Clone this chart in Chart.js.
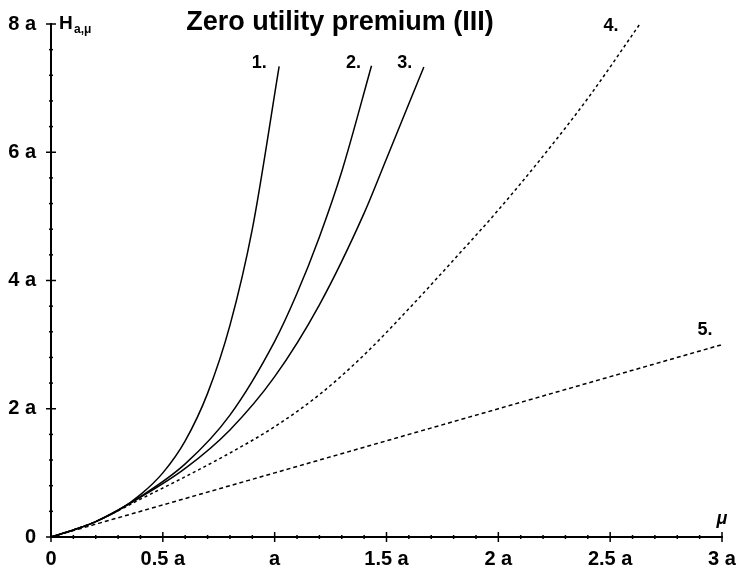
<!DOCTYPE html>
<html>
<head>
<meta charset="utf-8">
<script src="https://cdn.jsdelivr.net/npm/chart.js@4"></script>
<style>
  html, body { margin: 0; padding: 0; background: #fff; }
  #wrap { width: 740px; height: 568px; }
</style>
</head>
<body>
<div id="wrap"><canvas id="rel"></canvas></div>
<script>
// values in units of a
var xTicks = [0, 0.5, 1, 1.5, 2, 2.5, 3];
var xLabels = ['0', '0.5 a', 'a', '1.5 a', '2 a', '2.5 a', '3 a'];
var yTicks = [0, 2, 4, 6, 8];
var yLabels = ['0', '2 a', '4 a', '6 a', '8 a'];
var curveNames = ['1.', '2.', '3.', '4.', '5.'];

var mu1 = [0, 0.1, 0.2, 0.3, 0.4, 0.5, 0.6, 0.7, 0.8, 0.9, 1.02];
var h1  = [0, 0.11, 0.24, 0.41, 0.66, 1.00, 1.50, 2.24, 3.30, 4.80, 7.34];

var mu2 = [0, 0.1, 0.2, 0.4, 0.6, 0.8, 1.0, 1.1, 1.2, 1.3, 1.433];
var h2  = [0, 0.11, 0.24, 0.63, 1.14, 1.90, 3.05, 3.80, 4.68, 5.70, 7.35];

var mu3 = [0, 0.1, 0.2, 0.4, 0.6, 0.8, 1.0, 1.2, 1.4, 1.5, 1.667];
var h3  = [0, 0.11, 0.24, 0.62, 1.07, 1.67, 2.50, 3.62, 5.05, 5.90, 7.33];

var mu4 = [0, 0.1, 0.2, 0.3, 0.4, 0.6, 0.8, 1.0, 1.2, 1.4, 1.6, 1.8, 2.0, 2.2, 2.4, 2.633];
var h4  = [0, 0.11, 0.24, 0.41, 0.59, 0.94, 1.31, 1.72, 2.22, 2.84, 3.56, 4.32, 5.10, 5.94, 6.84, 8.0];

var mu5 = [0, 1, 2, 3];
var h5  = [0, 1, 2, 3];

function pts(xs, ys) {
    return xs.map(function(x, i){ return {x: x, y: ys[i]}; });
}

var font = '"Liberation Sans", Arial, sans-serif';
var labelShift = [[-20, -4], [-18, -4], [-19, -5], [-29, 1], [-17, -16]];

var decor = {
    id: 'decor',
    afterDraw: function(chart){
        var c = chart.ctx, sx = chart.scales.x, sy = chart.scales.y;
        var x0 = sx.getPixelForValue(0), y0 = sy.getPixelForValue(0);
        c.save();
        c.strokeStyle = '#000';
        c.lineWidth = 1.5;
        // ticks crossing the axes
        for (var i = 0; i <= 30; i++) {
            var px = sx.getPixelForValue(i / 10), l = (i % 5 == 0) ? 5 : 2;
            c.beginPath(); c.moveTo(px, y0 - l); c.lineTo(px, y0 + l); c.stroke();
        }
        for (var j = 0; j <= 20; j++) {
            var py = sy.getPixelForValue(j * 0.4), m = (j % 5 == 0) ? 5 : 2;
            c.beginPath(); c.moveTo(x0 - m, py); c.lineTo(x0 + m, py); c.stroke();
        }
        c.fillStyle = '#000';
        c.textBaseline = 'alphabetic';
        c.textAlign = 'center';
        c.font = 'bold 27px ' + font;
        c.fillText('Zero utility premium (III)', 340, 30);
        c.textAlign = 'left';
        c.font = 'bold 19px ' + font;
        c.fillText('H', 59, 29);
        c.font = 'bold 12px ' + font;
        c.fillText('a,\u03bc', 74, 33);
        c.font = 'italic bold 18px ' + font;
        c.textAlign = 'center';
        c.fillText('\u03bc', 722, 524);
        c.font = 'bold 18px ' + font;
        chart.data.datasets.forEach(function(ds, k){
            var last = ds.data[ds.data.length - 1];
            var ex = sx.getPixelForValue(last.x), ey = sy.getPixelForValue(last.y);
            c.fillText(curveNames[k], ex + labelShift[k][0], ey + labelShift[k][1] + 6);
        });
        c.restore();
    }
};

function line(data, dash) {
    return {
        data: data,
        borderColor: '#000',
        borderWidth: 1.5,
        borderDash: dash,
        pointRadius: 0,
        fill: false,
        cubicInterpolationMode: 'monotone'
    };
}

var rel = new Chart(document.getElementById('rel'), {
    type: 'line',
    data: {
        datasets: [
            line(pts(mu1, h1), []),
            line(pts(mu2, h2), []),
            line(pts(mu3, h3), []),
            line(pts(mu4, h4), [3, 3]),
            line(pts(mu5, h5), [4, 3])
        ]
    },
    options: {
        responsive: true,
        maintainAspectRatio: false,
        animation: false,
        layout: { padding: { top: 24, right: 18, left: 0, bottom: 0 } },
        plugins: { legend: { display: false }, tooltip: { enabled: false } },
        scales: {
            x: {
                type: 'linear', min: 0, max: 3,
                afterBuildTicks: function(s){ s.ticks = xTicks.map(function(v){ return {value: v}; }); },
                afterFit: function(s){ s.height = 31; s.paddingLeft = 0; s.paddingRight = 0; },
                grid: { display: false, drawTicks: false },
                border: { display: true, color: '#000', width: 2 },
                ticks: {
                    padding: 10, color: '#000', maxRotation: 0, autoSkip: false,
                    font: { family: font, size: 20, weight: 'bold' },
                    callback: function(v){ return xLabels[xTicks.indexOf(v)]; }
                }
            },
            y: {
                type: 'linear', min: 0, max: 8,
                afterBuildTicks: function(s){ s.ticks = yTicks.map(function(v){ return {value: v}; }); },
                afterFit: function(s){ s.width = 51; s.paddingTop = 0; s.paddingBottom = 0; },
                grid: { display: false, drawTicks: false },
                border: { display: true, color: '#000', width: 2 },
                ticks: {
                    padding: 15, color: '#000', autoSkip: false,
                    font: { family: font, size: 20, weight: 'bold' },
                    callback: function(v){ return yLabels[yTicks.indexOf(v)]; }
                }
            }
        }
    },
    plugins: [decor]
});
</script>
</body>
</html>
